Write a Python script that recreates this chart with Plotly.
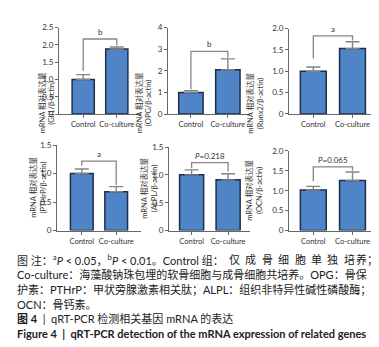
import plotly.graph_objects as go

categories = ["Control", "Co-culture"]
genes = ["Gli1", "OPG", "Runx2", "PTHrP", "ALPL", "OCN"]
mean_control = [1.00, 1.00, 1.00, 1.00, 1.00, 1.02]
mean_coculture = [1.88, 2.05, 1.53, 0.68, 0.91, 1.26]
err_control = [0.14, 0.08, 0.10, 0.08, 0.09, 0.09]
err_coculture = [0.06, 0.50, 0.16, 0.09, 0.11, 0.21]
bracket_top = [2.17, 2.90, 1.83, 1.22, 1.22, 1.60]
bracket_left = [1.25, 1.15, 1.30, 1.14, 1.12, 1.24]
bracket_right = [1.98, 2.60, 1.72, 0.80, 1.06, 1.50]
sig_labels = ["b", "b", "a", "a", "<i>P</i>=0.218", "<i>P</i>=0.065"]
y_max = [2.5, 4, 2.0, 1.5, 1.5, 2.0]
y_step = [0.5, 1, 0.5, 0.5, 0.5, 0.5]

W, H = 379, 347
# plot-area pixel boxes (left, right, top, bottom)
boxes = [
    (51, 133, 15, 104), (160, 242, 15, 104), (281, 368, 16, 104),
    (49, 133, 136, 224), (161, 242, 138, 224), (281, 368, 142, 224),
]
xranges = [(-0.72, 1.72), (-0.62, 1.6), (-0.62, 1.6),
           (-0.72, 1.72), (-0.62, 1.6), (-0.62, 1.6)]
title_x = [27, 136, 259, 18, 141, 258]

BAR = "#4f84c6"
EDGE = "#1d2f48"
GRAY = "#858585"
TXT = "#333333"
FONT = "Lato, Noto Sans CJK SC, sans-serif"

fig = go.Figure()
layout = dict(width=W, height=H, margin=dict(l=0, r=0, t=0, b=0),
              paper_bgcolor="white", plot_bgcolor="white", showlegend=False,
              font=dict(family=FONT, color=TXT, size=8))
annotations = []

for i, g in enumerate(genes):
    n = "" if i == 0 else str(i + 1)
    xa, ya = "x" + n, "y" + n
    l, r, t, b = boxes[i]
    fig.add_trace(go.Bar(
        x=[0, 1], y=[mean_control[i], mean_coculture[i]], width=0.66,
        marker=dict(color=BAR, line=dict(color=EDGE, width=1.5)),
        error_y=dict(type="data", symmetric=False,
                     array=[err_control[i], err_coculture[i]],
                     arrayminus=[0, 0], color=GRAY, thickness=1.4, width=7),
        xaxis=xa, yaxis=ya))
    fig.add_trace(go.Scatter(
        x=[0, 0, 1, 1],
        y=[bracket_left[i], bracket_top[i], bracket_top[i], bracket_right[i]],
        mode="lines", line=dict(color=GRAY, width=1.3),
        xaxis=xa, yaxis=ya, hoverinfo="skip"))
    annotations.append(dict(
        x=0.5, y=bracket_top[i], xref=xa, yref=ya, text=sig_labels[i],
        showarrow=False, yanchor="bottom", yshift=0,
        font=dict(size=8, color=TXT, family=FONT)))
    ticks = []
    v = 0.0
    while v <= y_max[i] + 1e-9:
        ticks.append(round(v, 2))
        v += y_step[i]
    ticktext = ["0" if tv == 0 else (f"{tv:.1f}" if y_step[i] < 1 else str(int(tv)))
                for tv in ticks]
    layout["xaxis" + n] = dict(
        domain=[l / W, r / W], range=list(xranges[i]), anchor=ya,
        tickvals=[0, 1], ticktext=categories, showline=True,
        linecolor="#666666", linewidth=1.2, ticks="outside", ticklen=3,
        tickcolor="#666666", showgrid=False, zeroline=False,
        tickfont=dict(size=7.5, color=TXT, family=FONT), fixedrange=True)
    layout["yaxis" + n] = dict(
        domain=[1 - b / H, 1 - t / H], range=[0, y_max[i]], anchor=xa,
        tickvals=ticks, ticktext=ticktext, showline=True,
        linecolor="#666666", linewidth=1.2, ticks="outside", ticklen=3,
        tickcolor="#666666", showgrid=False, zeroline=False,
        tickfont=dict(size=8, color=TXT, family=FONT), fixedrange=True)
    annotations.append(dict(
        x=title_x[i] / W, y=1 - ((t + b) / 2) / H, xref="paper", yref="paper",
        text=f"mRNA 相对表达量<br>({g}/β-actin)", textangle=-90,
        showarrow=False, font=dict(size=7.5, color=TXT, family=FONT)))

CAP = dict(size=11, color="#222222", family=FONT)
# caption lines
caption_parts = [
    ("图 注：<sup>a</sup><i>P</i> < 0.05，<sup>b</sup><i>P</i> < 0.01。Control 组：", 254),
    ("Co-culture：海藻酸钠珠包埋的软骨细胞与成骨细胞共培养。OPG：骨保", 269),
    ("护素：PTHrP：甲状旁腺激素相关肽；ALPL：组织非特异性碱性磷酸酶；", 285),
    ("OCN：骨钙素。", 300),
    ("<b>图 4</b>  |  qRT-PCR 检测相关基因 mRNA 的表达", 315),
    ("<b>Figure 4  |  qRT-PCR detection of the mRNA expression of related genes</b>", 330),
]
for txt, yy in caption_parts:
    annotations.append(dict(
        x=7 / W, y=1 - yy / H, xref="paper", yref="paper", text=txt,
        showarrow=False, xanchor="left", yanchor="middle", align="left",
        font=CAP))

# justified tail of the first caption line (characters spread out)
spread = ["仅", "成", "骨", "细", "胞", "单", "独", "培"]
x0, x_end = 219, 372
step = (x_end - 22 - x0) / len(spread)
for k, ch in enumerate(spread):
    annotations.append(dict(
        x=(x0 + k * step) / W, y=1 - 254 / H, xref="paper", yref="paper",
        text=ch, showarrow=False, xanchor="left", yanchor="middle", font=CAP))
annotations.append(dict(
    x=x_end / W, y=1 - 254 / H, xref="paper", yref="paper", text="养；",
    showarrow=False, xanchor="right", yanchor="middle", font=CAP))

layout["annotations"] = annotations
fig.update_layout(**layout)
fig.write_html("out.html")
